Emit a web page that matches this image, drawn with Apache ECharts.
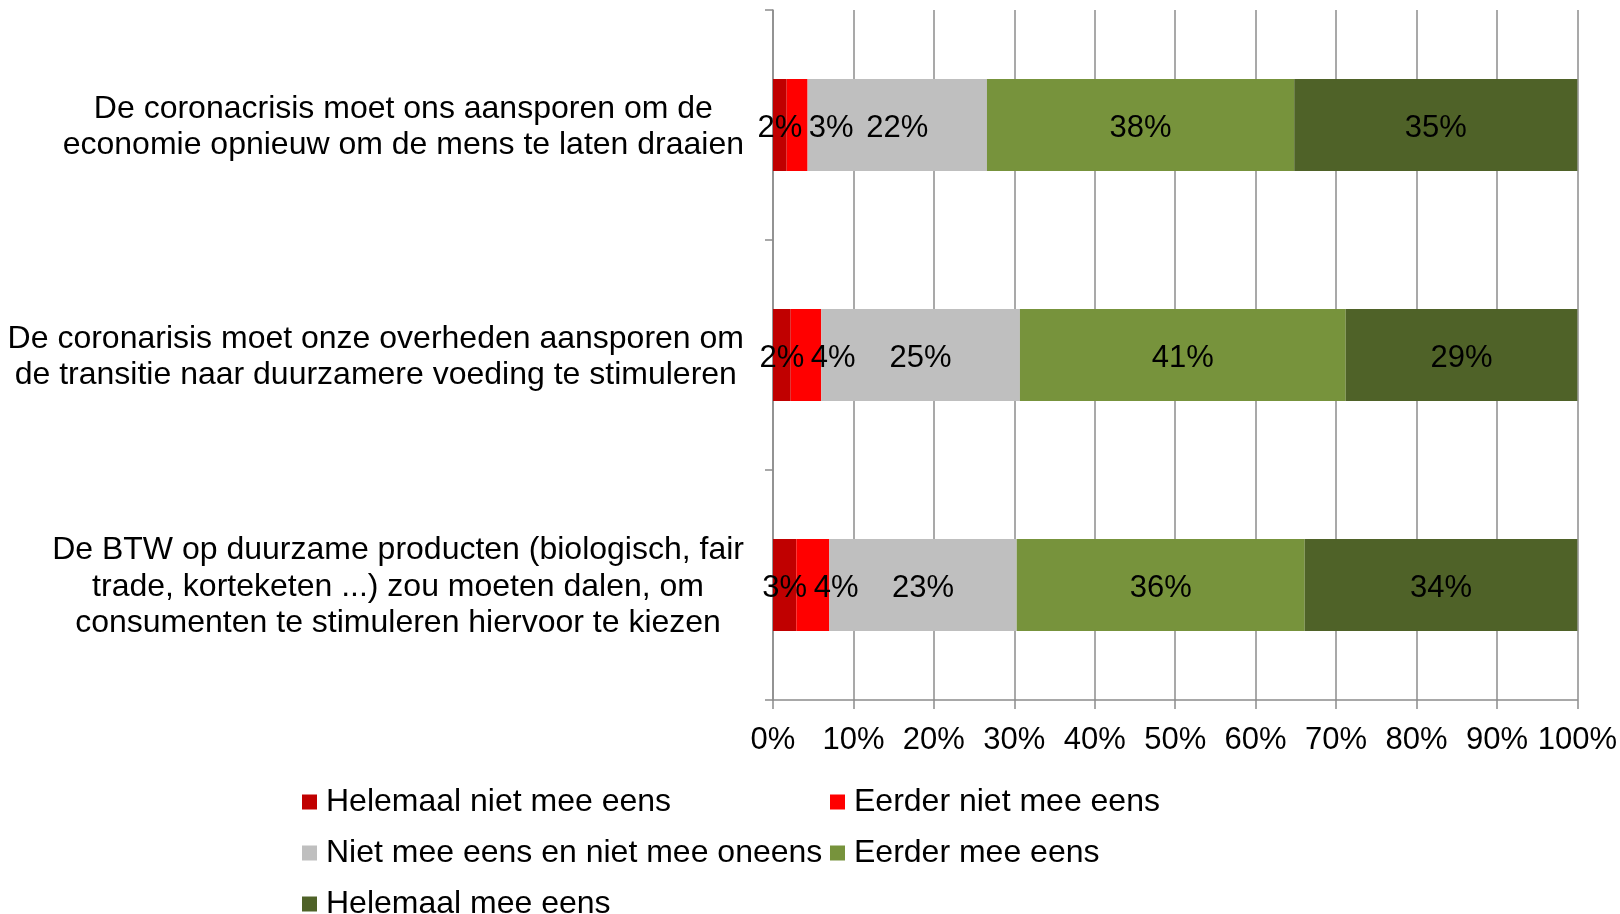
<!DOCTYPE html>
<html>
    <head>
        <meta charset="utf-8">
        <title>Stellingen</title>
        <script src="https://cdn.jsdelivr.net/npm/echarts@6/dist/echarts.min.js"></script>
        <style>
            html, body { margin: 0; padding: 0; background: #fff; }
            #chart1 { width: 1620px; height: 914px; }
        </style>
    </head>
    <body>
        <div id="chart1"></div>
    </body>
    <script type="text/javascript">
        // gegevens (percentages per stelling, van boven naar onder)
        var categories = [
            'De coronacrisis moet ons aansporen om de\neconomie opnieuw om de mens te laten draaien',
            'De coronarisis moet onze overheden aansporen om\nde transitie naar duurzamere voeding te stimuleren',
            'De BTW op duurzame producten (biologisch, fair\ntrade, korteketen ...) zou moeten dalen, om\nconsumenten te stimuleren hiervoor te kiezen'
        ];
        var seriesNames = [
            'Helemaal niet mee eens',
            'Eerder niet mee eens',
            'Niet mee eens en niet mee oneens',
            'Eerder mee eens',
            'Helemaal mee eens'
        ];
        var helemaalNiet = [1.7, 2.2, 2.9];
        var eerderNiet = [2.6, 3.8, 4.1];
        var neutraal = [22.3, 24.7, 23.3];
        var eerderMee = [38.2, 40.5, 35.8];
        var helemaalMee = [35.2, 28.8, 33.9];
        var xTicks = [0, 10, 20, 30, 40, 50, 60, 70, 80, 90, 100];

        var kleuren = ['#C00000', '#FF0000', '#BFBFBF', '#77933C', '#4F6228'];
        var waarden = [helemaalNiet, eerderNiet, neutraal, eerderMee, helemaalMee];
        var font = 'Liberation Sans, Arial, sans-serif';

        var myChart = echarts.init(document.getElementById('chart1'));

        // legenda: twee kolommen, elk item apart geplaatst
        var legendPos = [[302, 786], [830, 786], [302, 837], [830, 837], [302, 888]];
        var legends = seriesNames.map(function (naam, i) {
            return {
                data: [naam],
                left: legendPos[i][0],
                top: legendPos[i][1],
                padding: 0,
                itemWidth: 15,
                itemHeight: 15,
                icon: 'rect',
                selectedMode: false,
                textStyle: { fontFamily: font, fontSize: 32, color: '#000', padding: [0, 0, 0, 4] }
            };
        });

        var series = seriesNames.map(function (naam, i) {
            var s = {
                name: naam,
                type: 'bar',
                stack: 'totaal',
                barCategoryGap: '60%',
                itemStyle: { color: kleuren[i] },
                label: {
                    show: true,
                    position: 'inside',
                    fontFamily: font,
                    fontSize: 31,
                    color: '#000',
                    offset: [0, 3],
                    formatter: function (p) { return Math.round(p.value) + '%'; }
                },
                emphasis: { disabled: true },
                data: waarden[i]
            };
            if (i === 1) {
                // label naast het vorige label zetten, zoals in Excel
                s.labelLayout = function (p) {
                    var mid = myChart.convertToPixel({ gridIndex: 0 }, [helemaalNiet[p.dataIndex] / 2, p.dataIndex]);
                    return { x: mid[0] + 29, y: mid[1] + 3, align: 'left', verticalAlign: 'middle' };
                };
            }
            return s;
        });

        myChart.setOption({
            animation: false,
            backgroundColor: '#fff',
            legend: legends,
            grid: { left: 773, right: 42, top: 10, bottom: 214 },
            xAxis: {
                type: 'value',
                min: 0,
                max: 100,
                interval: 10,
                axisLine: { show: true, lineStyle: { color: '#8C8C8C', width: 1.5 } },
                axisTick: { show: true, length: 9, lineStyle: { color: '#8C8C8C', width: 1.5 } },
                splitLine: { show: true, lineStyle: { color: '#8C8C8C', width: 1.5 } },
                axisLabel: {
                    margin: 25,
                    fontFamily: font,
                    fontSize: 31,
                    color: '#000',
                    formatter: '{value}%'
                }
            },
            yAxis: {
                type: 'category',
                inverse: true,
                data: categories,
                axisLine: { show: true, lineStyle: { color: '#8C8C8C', width: 1.5 } },
                axisTick: { show: true, length: 8, lineStyle: { color: '#8C8C8C', width: 1.5 } },
                axisLabel: {
                    margin: 29,
                    padding: [4, 0, 0, 0],
                    formatter: function (v) {
                        return v.split('\n').map(function (r) { return '{c|' + r + '}'; }).join('\n');
                    },
                    rich: {
                        c: { align: 'center', fontFamily: font, fontSize: 32, lineHeight: 36.5, color: '#000' }
                    }
                }
            },
            series: series
        });
    </script>
</html>
